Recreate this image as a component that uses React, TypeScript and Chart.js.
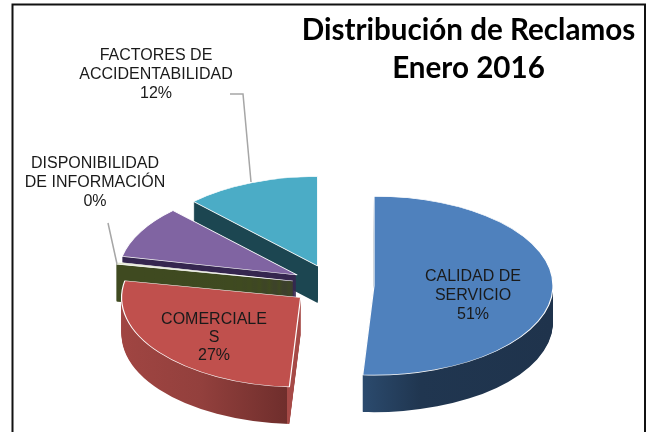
import React, { useEffect, useRef } from "react";
import { Chart, registerables } from "chart.js";

Chart.register(...registerables);

const categories = [
  "CALIDAD DE SERVICIO",
  "COMERCIALES",
  "DISPONIBILIDAD DE INFORMACIÓN",
  "OTROS",
  "FACTORES DE ACCIDENTABILIDAD",
];
const values = [51, 27, 0.35, 9.45, 12.2];
const topColors = ["#4f81bd", "#c0504d", "#e4e9d2", "#8064a2", "#4bacc6"];
const titleLines = ["Distribución de Reclamos", "Enero 2016"];

const EXPLODE = 41;
const SQUASH = 0.5;
const DEPTH = 37;
const FONT = '16px "Liberation Sans", Arial, sans-serif';

type Stop = [number, string];
const sideStops: Stop[][] = [
  [[358, "#2c4c70"], [420, "#203650"], [552, "#1f334c"]],
  [[121, "#a04542"], [200, "#93403d"], [287, "#6f2e2c"], [287.5, "#a64a47"], [301, "#a64a47"]],
  [[0, "#3f4a20"], [654, "#3f4a20"]],
  [[0, "#35264f"], [654, "#35264f"]],
  [[0, "#1c4651"], [654, "#1c4651"]],
];

const slicePlacement = (arc: any) => {
  const mid = (arc.startAngle + arc.endAngle) / 2;
  return { dx: Math.cos(mid) * EXPLODE, dy: Math.sin(mid) * EXPLODE * SQUASH };
};

const pie3d = {
  id: "pie3d",
  beforeDraw(chart: any) {
    const { ctx } = chart;
    ctx.save();
    ctx.fillStyle = "#ffffff";
    ctx.fillRect(0, 0, chart.width, chart.height);
    ctx.strokeStyle = "#111111";
    ctx.lineWidth = 2;
    ctx.beginPath();
    ctx.moveTo(12.5, 432);
    ctx.lineTo(12.5, 4.5);
    ctx.lineTo(645, 4.5);
    ctx.lineTo(645, 432);
    ctx.stroke();
    ctx.restore();
  },
  beforeDatasetsDraw(chart: any) {
    const { ctx } = chart;
    const arcs = chart.getDatasetMeta(0).data;
    // back to front: teal, purple, green, red, blue
    const order = [4, 3, 2, 1, 0];
    order.forEach((i) => {
      const arc = arcs[i];
      const { dx, dy } = slicePlacement(arc);
      const base = arc.options;
      const place = (down: number) => {
        ctx.translate(arc.x + dx, arc.y + dy + down);
        ctx.scale(1, SQUASH);
        ctx.translate(-arc.x, -arc.y);
      };
      // gradient stops are given in screen x, converted to the arc's local x
      const stops = sideStops[i];
      const first = stops[0][0];
      const last = stops[stops.length - 1][0];
      const g = ctx.createLinearGradient(first - dx, 0, last - dx, 0);
      stops.forEach(([x, c]) => g.addColorStop((x - first) / (last - first), c));
      // the very thin slice needs a stroke so its wall stays solid to the apex
      const thin = arc.circumference < 0.1;
      arc.options = {
        ...base,
        backgroundColor: g,
        borderWidth: thin ? 1.5 : 0,
        borderColor: thin ? g : "transparent",
      };
      for (let k = DEPTH; k >= 1; k--) {
        ctx.save();
        place(k);
        arc.draw(ctx);
        ctx.restore();
      }
      arc.options = base;
      ctx.save();
      place(0);
      arc.draw(ctx);
      ctx.restore();
    });
    return false;
  },
  afterDraw(chart: any) {
    const { ctx } = chart;
    ctx.save();
    // leader lines
    ctx.strokeStyle = "#a6a6a6";
    ctx.lineWidth = 1.5;
    ctx.beginPath();
    ctx.moveTo(230, 94);
    ctx.lineTo(243, 94);
    ctx.lineTo(251, 182);
    ctx.moveTo(108, 223);
    ctx.lineTo(117, 264);
    ctx.stroke();
    // data labels
    ctx.fillStyle = "#1a1a1a";
    ctx.font = FONT;
    ctx.textAlign = "center";
    ctx.textBaseline = "alphabetic";
    const put = (lines: string[], x: number, ys: number[]) =>
      lines.forEach((t, i) => ctx.fillText(t, x, ys[i]));
    put(["FACTORES DE", "ACCIDENTABILIDAD", "12%"], 156, [60, 79, 98]);
    put(["DISPONIBILIDAD", "DE INFORMACIÓN", "0%"], 95, [168, 187, 205.5]);
    put(["CALIDAD DE", "SERVICIO", "51%"], 473, [281, 300, 318.5]);
    put(["COMERCIALE", "S", "27%"], 214, [324, 342, 360]);
    // title
    ctx.fillStyle = "#000000";
    ctx.font = 'bold 29.6px Lato, "Noto Sans", sans-serif';
    ctx.fillText(titleLines[0], 468.5, 40);
    ctx.fillText(titleLines[1], 468.5, 78);
    ctx.restore();
  },
};

export default function App() {
  const ref = useRef<HTMLCanvasElement>(null);
  useEffect(() => {
    document.body.style.margin = "0";
    const chart = new Chart(ref.current!, {
      type: "pie",
      data: {
        labels: categories,
        datasets: [
          {
            data: values,
            backgroundColor: topColors,
            borderColor: "#ffffff",
            borderWidth: 1.2,
          },
        ],
      },
      options: {
        responsive: false,
        animation: false,
        radius: 179,
        layout: { padding: { left: 12, top: 138 } },
        plugins: { legend: { display: false }, tooltip: { enabled: false }, title: { display: false } },
      },
      plugins: [pie3d],
    } as any);
    return () => chart.destroy();
  }, []);
  return <canvas ref={ref} width={654} height={432} style={{ display: "block" }} />;
}
